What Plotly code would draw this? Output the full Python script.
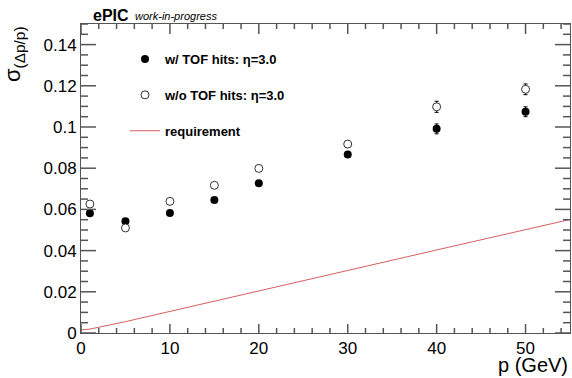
import plotly.graph_objects as go

# Momentum points (GeV)
p_vals = [1, 5, 10, 15, 20, 30, 40, 50]
# Resolution with TOF hits
sig_tof = [0.0581, 0.0542, 0.0583, 0.0646, 0.0727, 0.0867, 0.0991, 0.1074]
err_tof = [0.0008, 0.0008, 0.0008, 0.0009, 0.0010, 0.0014, 0.0024, 0.0024]
# Resolution without TOF hits
sig_notof = [0.0626, 0.0510, 0.0639, 0.0717, 0.0799, 0.0917, 0.1098, 0.1183]
err_notof = [0.0008, 0.0008, 0.0008, 0.0009, 0.0011, 0.0015, 0.0027, 0.0026]
# Requirement curve
req_p = [0, 1, 5, 10, 20, 30, 40, 55]
req_sig = [0.0015, 0.0019, 0.0055, 0.0105, 0.0203, 0.0303, 0.0403, 0.0551]

y_ticks = [0, 0.02, 0.04, 0.06, 0.08, 0.1, 0.12, 0.14]
y_ticktext = ["0", "0.02", "0.04", "0.06", "0.08", "0.1", "0.12", "0.14"]
x_ticks = [0, 10, 20, 30, 40, 50]
x_minor = [2 * i for i in range(28) if (2 * i) % 10 != 0]
y_minor = [round(0.005 * i, 4) for i in range(31) if i % 4 != 0]

X_RANGE = [0, 55]
Y_RANGE = [0, 0.15]

FONT = "Liberation Sans, Arial, Helvetica, sans-serif"
AX = "#555555"

fig = go.Figure()
fig.add_trace(go.Scatter(
    x=p_vals, y=sig_tof, mode="markers", name="<b>w/ TOF hits: η=3.0</b>",
    legendgroup="a",
    marker=dict(symbol="circle", size=8, color="black"),
    error_y=dict(type="data", array=err_tof, color="black", thickness=1, width=2),
))
fig.add_trace(go.Scatter(
    x=p_vals, y=sig_notof, mode="markers", name="<b>w/o TOF hits: η=3.0</b>",
    legendgroup="b",
    marker=dict(symbol="circle", size=8, color="white", line=dict(width=1, color="#333333")),
    error_y=dict(type="data", array=err_notof, color="black", thickness=1, width=2),
))
fig.add_trace(go.Scatter(
    x=req_p, y=req_sig, mode="lines", name="<b>requirement</b>",
    legendgroup="c",
    line=dict(color="rgb(212,95,95)", width=1),
))

L, R, T, B = 81, 2, 24, 45
W, H = 572, 378
PW, PH = W - L - R, H - T - B

def px2x(px):
    return (px - L) / PW

def px2y(py):
    return (H - B - py) / PH

# Inside tick marks on all four sides (ROOT style), drawn in paper coordinates
shapes = []
tick_line = dict(color=AX, width=1.5)

def xp(v):
    return (v - X_RANGE[0]) / (X_RANGE[1] - X_RANGE[0])

def yp(v):
    return (v - Y_RANGE[0]) / (Y_RANGE[1] - Y_RANGE[0])

for vals, blen, tlen in ((x_ticks, 9, 10), (x_minor, 5, 5)):
    for v in vals:
        shapes.append(dict(type="line", xref="paper", yref="paper", x0=xp(v), x1=xp(v),
                           y0=0, y1=blen / PH, line=tick_line, layer="above"))
        shapes.append(dict(type="line", xref="paper", yref="paper", x0=xp(v), x1=xp(v),
                           y0=1 - tlen / PH, y1=1, line=tick_line, layer="above"))
for vals, tlen in ((y_ticks, 15), (y_minor, 7)):
    for v in vals:
        shapes.append(dict(type="line", xref="paper", yref="paper", y0=yp(v), y1=yp(v),
                           x0=0, x1=tlen / PW, line=tick_line, layer="above"))
        shapes.append(dict(type="line", xref="paper", yref="paper", y0=yp(v), y1=yp(v),
                           x0=1 - tlen / PW, x1=1, line=tick_line, layer="above"))

fig.update_layout(
    width=W, height=H,
    margin=dict(l=L, r=R, t=T, b=B, pad=0),
    paper_bgcolor="white", plot_bgcolor="white",
    font=dict(family=FONT, color="black"),
    showlegend=True,
    legend=dict(
        x=px2x(125), y=px2y(44), xanchor="left", yanchor="top",
        bgcolor="rgba(0,0,0,0)", borderwidth=0,
        font=dict(size=13, family=FONT, color="black"),
        tracegroupgap=16,
    ),
    xaxis=dict(
        range=X_RANGE, tickmode="array", tickvals=x_ticks, ticks="",
        showgrid=False, zeroline=False, showline=True, linecolor=AX, linewidth=1,
        mirror=True, tickfont=dict(size=17, family=FONT, color="black"),
    ),
    yaxis=dict(
        range=Y_RANGE, tickmode="array", tickvals=y_ticks, ticktext=y_ticktext,
        ticks="", showgrid=False, zeroline=False, showline=True, linecolor=AX,
        linewidth=1, mirror=True, tickfont=dict(size=17, family=FONT, color="black"),
    ),
    shapes=shapes,
    annotations=[
        dict(text="<b>ePIC</b>", x=px2x(91), y=px2y(15), xref="paper", yref="paper",
             xanchor="left", yanchor="middle", showarrow=False,
             font=dict(size=16, family=FONT, color="black")),
        dict(text="<i>work-in-progress</i>", x=px2x(133), y=px2y(16), xref="paper", yref="paper",
             xanchor="left", yanchor="middle", showarrow=False,
             font=dict(size=11, family=FONT, color="black")),
        dict(text="p (GeV)", x=1.0, y=px2y(365), xref="paper", yref="paper",
             xanchor="right", yanchor="middle", showarrow=False,
             font=dict(size=20, family=FONT, color="black")),
        dict(text="σ<sub>(Δp/p)</sub>", x=px2x(14), y=px2y(24), xref="paper", yref="paper",
             xanchor="center", yanchor="top", showarrow=False, textangle=-90,
             font=dict(size=22, family=FONT, color="black")),
    ],
)

fig.write_html("out.html")
